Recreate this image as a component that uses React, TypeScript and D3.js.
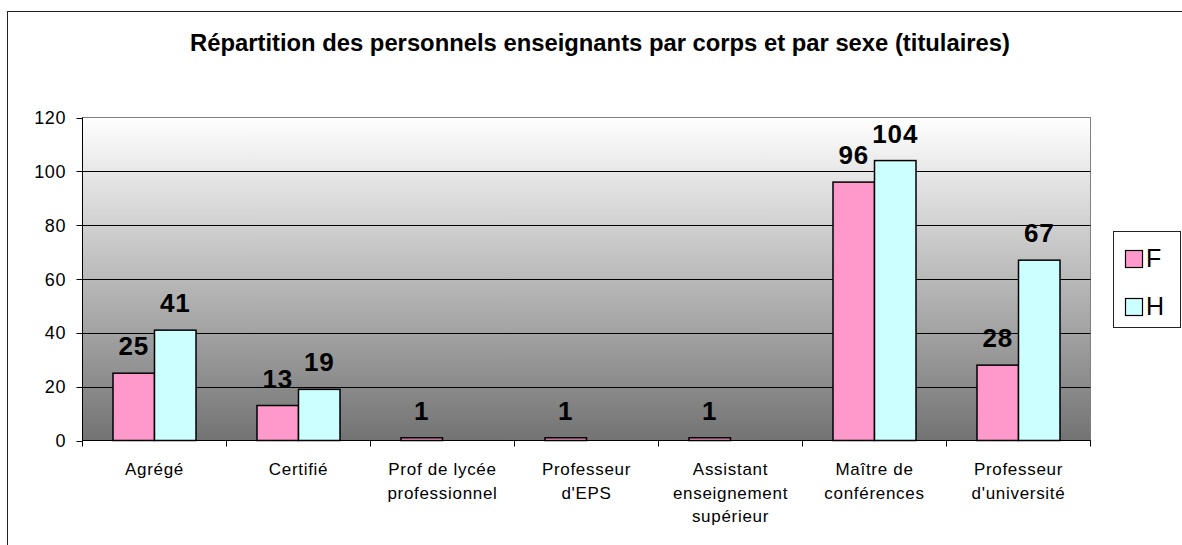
import React from 'react';
import * as d3 from 'd3';

const categories = [
  ['Agrégé'],
  ['Certifié'],
  ['Prof de lycée', 'professionnel'],
  ['Professeur', "d'EPS"],
  ['Assistant', 'enseignement', 'supérieur'],
  ['Maître de', 'conférences'],
  ['Professeur', "d'université"],
];
const seriesKeys = ['F', 'H'];
const valuesF = [25, 13, 1, 1, 1, 96, 28];
const valuesH = [41, 19, 0, 0, 0, 104, 67];
const yTicks = [0, 20, 40, 60, 80, 100, 120];
const colors = { F: '#FF99CC', H: '#CCFFFF' };
const title = 'Répartition des personnels enseignants par corps et par sexe (titulaires)';

const W = 1182;
const H = 545;
const plot = { left: 82.5, right: 1090.5, top: 117.5, bottom: 440.5 };
const font = '"Liberation Sans", Arial, sans-serif';

export default function App() {
  const ids = categories.map((c, i) => String(i));
  const x0 = d3.scaleBand<string>()
    .domain(ids)
    .range([plot.left, plot.right])
    .paddingInner(61 / 144)
    .paddingOuter(30.5 / 144);
  const x1 = d3.scaleBand<string>().domain(seriesKeys).range([0, x0.bandwidth()]);
  const y = d3.scaleLinear().domain([0, 120]).range([plot.bottom, plot.top]);
  const step = x0.step();
  const series = { F: valuesF, H: valuesH };

  return (
    <svg width={W} height={H} style={{ position: 'absolute', left: 0, top: 0, display: 'block' }}>
      <defs>
        <linearGradient id="bg" x1="0" y1="0" x2="0" y2="1">
          <stop offset="0%" stopColor="#ffffff" />
          <stop offset="100%" stopColor="#737373" />
        </linearGradient>
      </defs>
      <rect x={0} y={0} width={W} height={H} fill="#fff" />
      <rect x={7.5} y={11.5} width={1300} height={700} fill="#fff" stroke="#222" strokeWidth={1} />

      <text x={600} y={51} textAnchor="middle" fontFamily={font} fontWeight="bold" fontSize={23}
        textLength={820} lengthAdjust="spacingAndGlyphs">
        {title}
      </text>

      {/* plot background */}
      <rect x={plot.left} y={plot.top} width={plot.right - plot.left} height={plot.bottom - plot.top}
        fill="url(#bg)" stroke="#808080" strokeWidth={1} />

      {/* gridlines */}
      {yTicks.filter(t => t > 0 && t < 120).map(t => (
        <line key={t} x1={plot.left} x2={plot.right} y1={Math.round(y(t)) + 0.5} y2={Math.round(y(t)) + 0.5}
          stroke="#000" strokeWidth={1} />
      ))}

      {/* bars */}
      {seriesKeys.map(k => series[k].map((v, i) => v > 0 ? (
        <rect key={k + i} x={(x0(ids[i]) as number) + (x1(k) as number)} y={y(v)}
          width={x1.bandwidth()} height={plot.bottom - y(v)}
          fill={colors[k]} stroke="#000" strokeWidth={1.5} />
      ) : null))}

      {/* value labels */}
      {seriesKeys.map(k => series[k].map((v, i) => v > 0 ? (
        <text key={'l' + k + i} x={(x0(ids[i]) as number) + (x1(k) as number) + x1.bandwidth() / 2}
          y={y(v) - 18} textAnchor="middle" fontFamily={font} fontWeight="bold" fontSize={26} letterSpacing={0.8}>
          {v}
        </text>
      ) : null))}

      {/* y axis */}
      <line x1={plot.left} x2={plot.left} y1={plot.top} y2={plot.bottom} stroke="#000" />
      {yTicks.map(t => (
        <g key={'yt' + t}>
          <line x1={plot.left - 6} x2={plot.left} y1={Math.round(y(t)) + 0.5} y2={Math.round(y(t)) + 0.5} stroke="#000" />
          <text x={66} y={y(t) + 6.5} textAnchor="end" fontFamily={font} fontSize={18} letterSpacing={0.6}>{t}</text>
        </g>
      ))}

      {/* x axis */}
      <line x1={plot.left} x2={plot.right} y1={plot.bottom} y2={plot.bottom} stroke="#000" />
      {d3.range(categories.length + 1).map(i => (
        <line key={'xt' + i} x1={plot.left + i * step} x2={plot.left + i * step}
          y1={plot.bottom} y2={plot.bottom + 6} stroke="#000" />
      ))}
      {categories.map((lines, i) => (
        <text key={'c' + i} textAnchor="middle" fontFamily={font} fontSize={17} letterSpacing={0.7}>
          {lines.map((ln, j) => (
            <tspan key={j} x={(x0(ids[i]) as number) + x0.bandwidth() / 2} y={475 + j * 23.5}>{ln}</tspan>
          ))}
        </text>
      ))}

      {/* legend */}
      <rect x={1113.5} y={231.5} width={67} height={96} fill="#fff" stroke="#222" />
      {seriesKeys.map((k, i) => (
        <g key={'lg' + k} transform={`translate(1125,${250 + i * 48})`}>
          <rect x={0.5} y={0.5} width={17} height={17} fill={colors[k]} stroke="#000" strokeWidth={1.2} />
          <text x={21} y={17} fontFamily={font} fontSize={25}>{k}</text>
        </g>
      ))}
    </svg>
  );
}
